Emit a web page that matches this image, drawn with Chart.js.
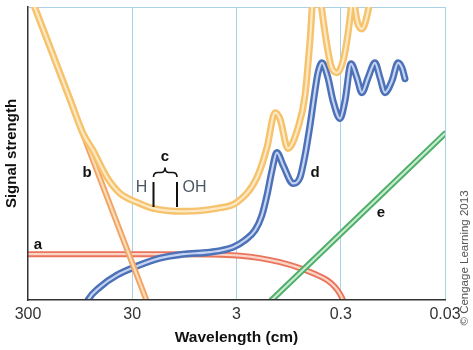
<!DOCTYPE html>
<html><head><meta charset="utf-8">
<script src="https://cdn.jsdelivr.net/npm/chart.js@4"></script>
<style>html,body{margin:0;padding:0;background:#fff}</style>
</head><body>
<canvas id="c" width="473" height="350"></canvas>
<script>
// ---- data (wavelength in cm, relative signal strength) ----
const tickValues = [300, 30, 3, 0.3, 0.03];
const tickLabels = ['300', '30', '3', '0.3', '0.03'];

const aLambda = [300, 61.2, 10.45, 4.32, 2.78, 1.79, 1.15, 0.738, 0.530, 0.406, 0.341, 0.305, 0.285];
const aSignal = [46, 46, 46, 45.5, 44.5, 42, 38, 32, 26, 20, 13, 6, 0];

const bLambda = [297, 20.2];
const bSignal = [310, -10];

const cLambda = [297, 118.7, 89.0, 71.3, 52.4, 39.3, 27.0, 18.97, 9.78, 4.61, 2.97, 1.91, 1.53, 1.28, 1.15, 0.962, 0.771, 0.661, 0.592, 0.518, 0.454, 0.406, 0.372, 0.326, 0.285, 0.256, 0.239, 0.229, 0.219, 0.188, 0.164, 0.150];
const cSignal = [310, 201.4, 167, 150, 123, 107, 98, 92, 89, 92, 98, 123, 153, 188, 182, 152, 173, 205, 260, 340, 290, 255, 235, 228, 240, 267, 293, 320, 293, 272, 290, 315];

const dLambda = [87.1, 79.7, 61.2, 42.0, 27.0, 16.25, 9.78, 5.39, 3.24, 2.49, 1.99, 1.71, 1.53, 1.37, 1.23, 1.07, 0.861, 0.738, 0.661, 0.592, 0.530, 0.496, 0.454, 0.398, 0.356, 0.305, 0.273, 0.239, 0.210, 0.188, 0.164, 0.141, 0.126, 0.113, 0.0967, 0.0847, 0.0776, 0.0726];
const dSignal = [-10, 0, 13, 25, 34, 42, 46, 48, 53, 60, 70, 85, 105, 130, 148, 135, 117, 123, 145, 175, 210, 228, 238, 223, 200, 182, 200, 237, 223, 208, 223, 238, 223, 208, 220, 238, 233, 222];

const eLambda = [1.38, 0.03];
const eSignal = [0, 167];

// ---- styling ----
const FONT = '"Liberation Sans", Arial, Helvetica, sans-serif';
const GRID = '#a9d2ea';
const series = [
  {x: aLambda, y: aSignal, outer: '#e9755c', inner: '#fbd5c7', w: 6},
  {x: dLambda, y: dSignal, outer: '#4d71b7', inner: '#c5d4f2', w: 7},
  {x: eLambda, y: eSignal, outer: '#4fae68', inner: '#c8ebd2', w: 6},
  {x: bLambda, y: bSignal, outer: '#f1a564', inner: '#fcdcb9', w: 6},
  {x: cLambda, y: cSignal, outer: '#f6c36c', inner: '#fde9c6', w: 7},
];

const datasets = [];
series.forEach(s => {
  const pts = s.x.map((v, i) => ({x: v, y: s.y[i]}));
  [[s.outer, s.w], [s.inner, 2.2]].forEach(([col, w]) => {
    datasets.push({
      data: pts, borderColor: col, borderWidth: w, pointRadius: 0, fill: false,
      cubicInterpolationMode: 'monotone', borderCapStyle: 'round', borderJoinStyle: 'round', clip: 0
    });
  });
});
const n = datasets.length;
datasets.forEach((d, i) => d.order = n - i);

const annotate = {
  id: 'annotate',
  afterDraw(chart) {
    const ctx = chart.ctx;
    ctx.save();
    ctx.fillStyle = '#111';
    ctx.textAlign = 'center';
    ctx.textBaseline = 'middle';
    ctx.font = 'bold 15px ' + FONT;
    [['a', 38, 245], ['b', 87, 173], ['c', 165, 157], ['d', 315, 173], ['e', 381, 213]]
      .forEach(([t, x, y]) => ctx.fillText(t, x, y));
    ctx.fillStyle = '#4a5662';
    ctx.font = '16px ' + FONT;
    ctx.fillText('H', 141.5, 188);
    ctx.fillText('OH', 194.5, 188);
    // brace
    ctx.strokeStyle = '#111';
    ctx.lineWidth = 1.6;
    ctx.beginPath();
    ctx.moveTo(153.5, 177);
    ctx.quadraticCurveTo(153.5, 172.5, 158, 172.5);
    ctx.lineTo(161, 172.5);
    ctx.quadraticCurveTo(165, 172.5, 165, 167.5);
    ctx.quadraticCurveTo(165, 172.5, 169, 172.5);
    ctx.lineTo(172.5, 172.5);
    ctx.quadraticCurveTo(177, 172.5, 177, 177);
    ctx.stroke();
    ctx.lineWidth = 2;
    ctx.beginPath();
    ctx.moveTo(153.5, 182); ctx.lineTo(153.5, 207);
    ctx.moveTo(177, 182); ctx.lineTo(177, 207);
    ctx.stroke();
    // copyright
    ctx.translate(465, 258);
    ctx.rotate(-Math.PI / 2);
    ctx.fillStyle = '#555';
    ctx.font = '11.5px ' + FONT;
    ctx.fillText('\u00A9 Cengage Learning 2013', 0, 0);
    ctx.restore();
  }
};

new Chart(document.getElementById('c'), {
  type: 'line',
  data: {datasets},
  plugins: [annotate],
  options: {
    responsive: false, animation: false, parsing: true,
    layout: {padding: {top: 7, right: 28, bottom: 0, left: 0}},
    plugins: {legend: {display: false}, tooltip: {enabled: false}},
    scales: {
      x: {
        type: 'logarithmic', reverse: true, min: 0.03, max: 300,
        afterBuildTicks: s => { s.ticks = tickValues.map(v => ({value: v})); },
        afterFit: s => { s.height = 50; },
        ticks: {
          callback: v => tickLabels[tickValues.indexOf(v)] ?? '',
          font: {family: FONT, size: 16}, color: '#333', padding: 5, maxRotation: 0, autoSkip: false
        },
        grid: {color: c => (c.tick && c.tick.value === 300) ? 'rgba(0,0,0,0)' : GRID, drawTicks: false, lineWidth: 1},
        border: {color: '#333', width: 1.5, z: 1},
        title: {display: true, text: 'Wavelength (cm)', color: '#111',
          font: {family: FONT, size: 15.5, weight: 'bold'}, padding: {top: 0, bottom: 3}}
      },
      y: {
        min: 0, max: 294,
        afterBuildTicks: s => { s.ticks = [{value: 0}, {value: 294}]; },
        afterFit: s => { s.width = 28; },
        ticks: {display: false},
        grid: {color: c => (c.tick && c.tick.value === 294) ? GRID : 'rgba(0,0,0,0)', drawTicks: false, lineWidth: 1},
        border: {color: '#333', width: 1.5, z: 1},
        title: {display: true, text: 'Signal strength', color: '#111',
          font: {family: FONT, size: 15, weight: 'bold'}, padding: {top: 3, bottom: 0}}
      }
    }
  }
});
</script>
</body></html>
